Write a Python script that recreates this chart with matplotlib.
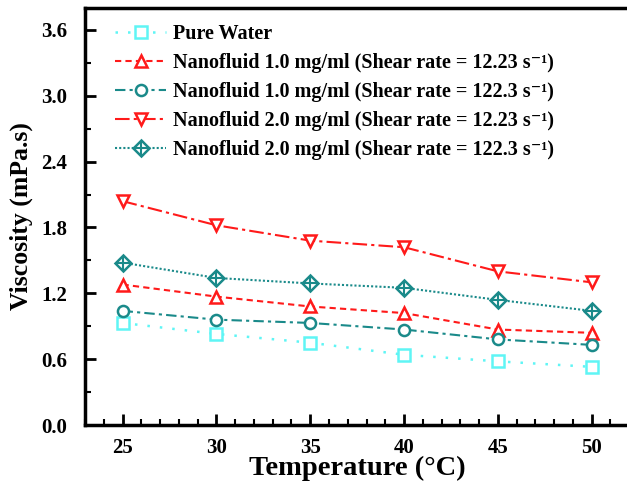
import matplotlib.pyplot as plt
from matplotlib.ticker import MultipleLocator

temps = [25, 30, 35, 40, 45, 50]
water = [0.93, 0.83, 0.75, 0.64, 0.58, 0.53]
nf1_low = [1.28, 1.17, 1.08, 1.02, 0.87, 0.84]
nf1_high = [1.04, 0.96, 0.93, 0.87, 0.78, 0.73]
nf2_low = [2.04, 1.82, 1.68, 1.62, 1.40, 1.30]
nf2_high = [1.48, 1.34, 1.29, 1.25, 1.14, 1.04]

labels = [
    "Pure Water",
    "Nanofluid 1.0 mg/ml (Shear rate = 12.23 s\u207b\u00b9)",
    "Nanofluid 1.0 mg/ml (Shear rate = 122.3 s\u207b\u00b9)",
    "Nanofluid 2.0 mg/ml (Shear rate = 12.23 s\u207b\u00b9)",
    "Nanofluid 2.0 mg/ml (Shear rate = 122.3 s\u207b\u00b9)",
]

plt.rcParams["font.family"] = ["Liberation Serif", "DejaVu Serif"]
plt.rcParams["font.weight"] = "bold"

cyan = "#5ff5f5"
red = "#ff1a1a"
teal = "#1a8a8a"

fig = plt.figure(figsize=(6.27, 4.87), dpi=100)
ax = fig.add_axes([0.1356, 0.1273, 0.868, 0.8563])

mk = dict(markersize=8, markeredgewidth=1.8, markerfacecolor="white")
h1, = ax.plot(temps, water, color=cyan, linestyle=(0, (1, 4)), lw=1.8,
              marker="s", markeredgecolor=cyan, **mk)
h2, = ax.plot(temps, nf1_low, color=red, linestyle=(0, (3, 2)), lw=1.5,
              marker="^", markeredgecolor=red, **mk)
h3, = ax.plot(temps, nf1_high, color=teal, linestyle=(0, (5, 2, 1.5, 2)), lw=1.5,
              marker="o", markeredgecolor=teal, **mk)
h4, = ax.plot(temps, nf2_low, color=red, linestyle=(0, (7, 2, 1.5, 2)), lw=1.5,
              marker="v", markeredgecolor=red, **mk)
h5, = ax.plot(temps, nf2_high, color=teal, linestyle=(0, (1, 1)), lw=1.5,
              marker="D", markeredgecolor=teal, **mk)
h5b, = ax.plot(temps, nf2_high, linestyle="none", marker="+", markersize=10,
               markeredgewidth=1.5, color=teal)

ax.legend([h1, h2, h3, h4, (h5, h5b)], labels, loc="upper left",
          frameon=False, fontsize=14.5, handlelength=2.5, handletextpad=0.35,
          labelspacing=0.45, borderaxespad=0.3, bbox_to_anchor=(0.03, 0.995))

ax.set_xlim(23, 52)
ax.set_ylim(0, 3.8)
ax.xaxis.set_major_locator(MultipleLocator(5))
ax.xaxis.set_minor_locator(MultipleLocator(1))
ax.yaxis.set_major_locator(MultipleLocator(0.6))
ax.yaxis.set_minor_locator(MultipleLocator(0.3))
ax.yaxis.set_major_formatter(plt.FuncFormatter(lambda v, p: f"{v:.1f}"))

ax.tick_params(which="major", direction="in", length=8, width=2, labelsize=15)
ax.tick_params(axis="y", which="major", pad=13)
ax.tick_params(axis="x", which="major", pad=9)
ax.tick_params(which="minor", direction="in", length=4, width=1.5)
ax.tick_params(top=False, right=False)
for s in ["left", "bottom", "top"]:
    ax.spines[s].set_linewidth(2.5)
ax.spines["right"].set_visible(False)

ax.set_xlabel("Temperature (°C)", fontsize=20.5, fontweight="bold", labelpad=-1)
ax.set_ylabel("Viscosity (mPa.s)", fontsize=18.5, fontweight="bold", labelpad=6)

fig.savefig("out.png", dpi=100)
